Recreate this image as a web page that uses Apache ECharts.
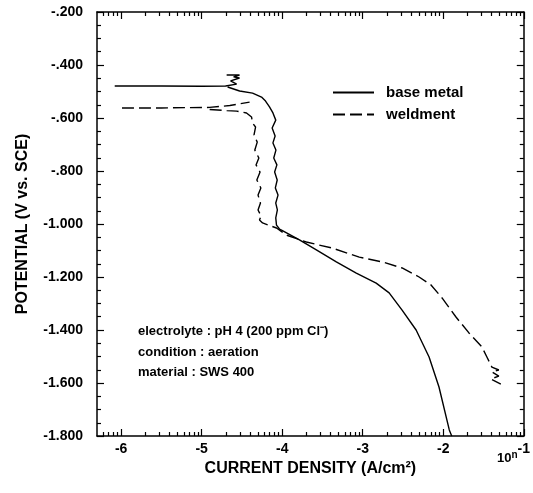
<!DOCTYPE html>
<html>
<head>
<meta charset="utf-8">
<script src="https://cdn.jsdelivr.net/npm/echarts@6/dist/echarts.min.js"></script>
<style>
html,body{margin:0;padding:0;background:#fff}
#main{width:533px;height:493px}
</style>
</head>
<body>
<div id="main"></div>
<script>
// log10 of current density (A/cm2) vs potential (V vs SCE)
var baseMetal = [
  [-6.08,-0.479],[-5.5,-0.479],[-5.0,-0.480],[-4.703,-0.479],
  [-4.566,-0.472],[-4.641,-0.460],[-4.530,-0.449],[-4.604,-0.445],[-4.530,-0.438],[-4.690,-0.438],
  ['-','-'],
  [-4.678,-0.483],[-4.529,-0.498],[-4.368,-0.506],[-4.257,-0.521],[-4.207,-0.536],[-4.158,-0.558],
  [-4.115,-0.581],[-4.080,-0.608],[-4.125,-0.638],[-4.088,-0.668],[-4.115,-0.694],[-4.078,-0.721],
  [-4.105,-0.751],[-4.066,-0.777],[-4.094,-0.804],[-4.062,-0.834],[-4.085,-0.864],[-4.052,-0.891],
  [-4.080,-0.921],[-4.060,-0.947],[-4.080,-0.977],[-4.071,-1.004],
  [-4.034,-1.019],[-4.009,-1.023],[-3.786,-1.060],[-3.576,-1.098],[-3.328,-1.143],[-3.080,-1.185],
  [-2.833,-1.223],[-2.672,-1.260],[-2.511,-1.325],[-2.337,-1.400],[-2.176,-1.502],[-2.053,-1.615],
  [-1.925,-1.777],[-1.895,-1.800]
];
var weldment = [
  [-5.99,-0.562],[-5.5,-0.562],[-4.901,-0.560],[-4.65,-0.553],[-4.405,-0.540],
  ['-','-'],
  [-4.901,-0.568],[-4.690,-0.572],[-4.566,-0.574],[-4.443,-0.581],[-4.381,-0.596],[-4.368,-0.619],[-4.331,-0.634],
  [-4.350,-0.664],[-4.310,-0.691],[-4.340,-0.721],[-4.290,-0.751],[-4.325,-0.777],[-4.275,-0.804],
  [-4.315,-0.834],[-4.265,-0.864],[-4.300,-0.891],[-4.270,-0.921],[-4.300,-0.947],[-4.262,-0.970],
  [-4.282,-0.985],[-4.244,-0.996],
  [-4.071,-1.015],[-3.947,-1.042],[-3.700,-1.068],[-3.378,-1.091],[-3.043,-1.125],[-2.758,-1.143],
  [-2.511,-1.166],[-2.300,-1.200],[-2.152,-1.230],[-2.015,-1.279],[-1.842,-1.351],[-1.681,-1.411],
  [-1.520,-1.464],[-1.458,-1.502],
  [-1.396,-1.540],[-1.310,-1.551],[-1.396,-1.558],[-1.310,-1.574],[-1.409,-1.585],[-1.285,-1.604]
];
var seriesNames = ['base metal', 'weldment'];
var xMajor = [-6, -5, -4, -3, -2, -1];
var notes = ['electrolyte : pH 4 (200 ppm Cl\u207B)', 'condition : aeration', 'material : SWS 400'];

var X_MIN = -6.3, X_MAX = -1;
// log minor ticks (2..9 within each decade)
var xMinor = [];
for (var d = -7; d < -1; d++) {
  for (var k = 2; k < 10; k++) {
    var v = d + Math.log10(k);
    if (v > X_MIN && v < X_MAX) xMinor.push(v);
  }
}

var FONT = 'Liberation Sans';
var black = '#000';

function xAx(pos, ticks, len, showLine, labels) {
  return {
    type: 'value', position: pos, min: X_MIN, max: X_MAX,
    axisLine: { show: showLine, lineStyle: { color: black, width: 1.5 } },
    axisTick: { show: true, inside: true, length: len, customValues: ticks,
                lineStyle: { color: black, width: 1.2 } },
    axisLabel: labels ? { show: true, customValues: xMajor, color: black, margin: 6,
                fontFamily: FONT, fontSize: 14, fontWeight: 'bold' } : { show: false },
    splitLine: { show: false }
  };
}
function yAx(pos, labels) {
  return {
    type: 'value', position: pos, min: -1.8, max: -0.2, interval: 0.2,
    axisLine: { show: true, lineStyle: { color: black, width: 1.5 } },
    axisTick: { show: true, inside: true, length: 7, lineStyle: { color: black, width: 1.2 } },
    minorTick: { show: true, splitNumber: 4, length: 4, lineStyle: { color: black, width: 1.2 } },
    axisLabel: labels ? {
      show: true, color: black, margin: 14, fontFamily: FONT, fontSize: 14, fontWeight: 'bold',
      formatter: function (v) {
        var s = Math.abs(v).toFixed(3);
        if (s.charAt(0) === '0') s = s.slice(1);
        return '-' + s;
      }
    } : { show: false },
    name: labels ? 'POTENTIAL (V vs. SCE)' : '',
    nameLocation: 'middle', nameGap: 66,
    nameTextStyle: { color: black, fontFamily: FONT, fontSize: 16, fontWeight: 'bold' },
    splitLine: { show: false }
  };
}

var xAxes = [
  xAx('bottom', xMajor, 7, true, true),
  xAx('bottom', xMinor, 4, false, false),
  xAx('top', xMajor, 7, true, false),
  xAx('top', xMinor, 4, false, false)
];
xAxes[0].name = 'CURRENT DENSITY (A/cm\u00B2)';
xAxes[0].nameLocation = 'middle';
xAxes[0].nameGap = 14;
xAxes[0].nameTextStyle = { color: black, fontFamily: FONT, fontSize: 16, fontWeight: 'bold' };

var myChart = echarts.init(document.getElementById('main'));
myChart.setOption({
  animation: false,
  backgroundColor: '#fff',
  grid: { left: 97, right: 8, top: 12, bottom: 57 },
  xAxis: xAxes,
  yAxis: [yAx('left', true), yAx('right', false)],
  legend: {
    orient: 'vertical', left: 327, top: 80,
    itemWidth: 41, itemHeight: 14, itemGap: 7,
    data: seriesNames,
    itemStyle: { color: 'rgba(0,0,0,0)', borderWidth: 0, opacity: 0 },
    textStyle: { color: black, fontFamily: FONT, fontSize: 15, fontWeight: 'bold', padding: [0, 0, 0, 7] }
  },
  graphic: [
    { type: 'text', left: 497, top: 450,
      style: { text: '10{n|n}', fill: black, font: 'bold 13px "Liberation Sans"',
               rich: { n: { fontSize: 10, fontWeight: 'bold', fontFamily: FONT, verticalAlign: 'top', padding: [0, 0, 6, 0] } } } },
    { type: 'group', left: 138, top: 325, children: notes.map(function (t, i) {
      return { type: 'text', x: 0, y: i * 20.7,
               style: { text: t, fill: black, font: 'bold 13px "Liberation Sans"' } };
    }) }
  ],
  series: [
    { name: seriesNames[0], type: 'line', data: baseMetal, symbol: 'none', xAxisIndex: 0, yAxisIndex: 0,
      lineStyle: { color: black, width: 1.4 }, itemStyle: { color: black } },
    { name: seriesNames[1], type: 'line', data: weldment, symbol: 'none', xAxisIndex: 0, yAxisIndex: 0,
      lineStyle: { color: black, width: 1.4, type: [12, 5] }, itemStyle: { color: black } }
  ]
});
</script>
</body>
</html>
